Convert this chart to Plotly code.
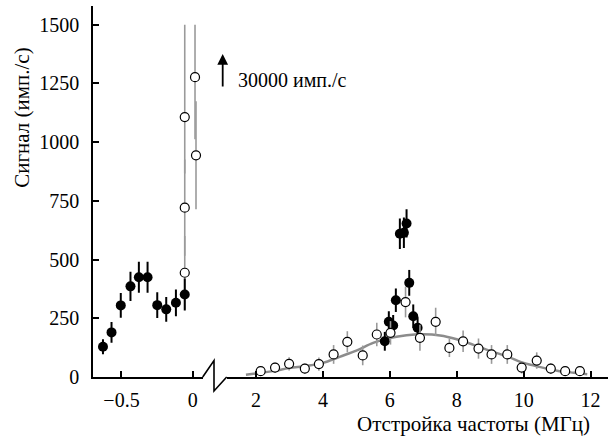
import plotly.graph_objects as go

# ---- data ----
left_filled_x = [-0.630, -0.570, -0.505, -0.437, -0.378, -0.317, -0.249, -0.186, -0.118, -0.056]
left_filled_y = [129, 190, 305, 386, 425, 425, 306, 288, 316, 351]
left_filled_err = [32, 44, 53, 62, 66, 66, 55, 53, 57, 68]

left_open_x = [-0.056, -0.056, -0.056, 0.016, 0.023]
left_open_y = [444, 721, 1107, 1277, 944]
left_open_err_plus = [157, 205, 393, 223, 230]
left_open_err_minus = [157, 205, 240, 265, 230]

right_filled_x = [5.85, 5.97, 6.10, 6.18, 6.30, 6.42, 6.50, 6.58, 6.70, 6.83]
right_filled_y = [152, 235, 219, 327, 610, 614, 654, 401, 259, 210]
right_filled_err = [40, 45, 45, 50, 65, 65, 60, 55, 50, 45]

right_open_x = [2.14, 2.57, 2.99, 3.46, 3.88, 4.32, 4.73, 5.19, 5.61, 6.02, 6.47, 6.90,
                7.37, 7.78, 8.19, 8.65, 9.04, 9.51, 9.94, 10.39, 10.81, 11.24, 11.68]
right_open_y = [25, 40, 56, 36, 55, 96, 150, 92, 181, 188, 319, 167,
                235, 124, 152, 121, 96, 96, 40, 70, 36, 25, 25]
right_open_err = [18, 22, 28, 22, 28, 40, 45, 42, 50, 50, 65, 55,
                  60, 39, 46, 43, 40, 40, 25, 35, 23, 16, 14]

fit_x = [1.7, 2, 2.5, 3, 3.5, 4, 4.5, 5, 5.5, 6, 6.5, 7, 7.5, 8, 8.5, 9, 9.5, 10, 10.5, 11, 11.5, 11.9]
fit_y = [10, 15, 25, 38, 47, 60, 86, 112, 145, 166, 178, 182, 177, 161, 137, 111, 88, 60, 42, 27, 18, 12]

y_ticks = [0, 250, 500, 750, 1000, 1250, 1500]
left_ticks = [-0.5, 0]
left_tick_text = ["\u22120.5", "0"]
right_ticks = [2, 4, 6, 8, 10, 12]

FONT = "Liberation Serif"
W, H = 608, 438
ML, MR, MT, MB = 93, 0, 6, 60.5
PW, PH = W - ML - MR, H - MT - MB


def px(x):
    return (x - ML) / PW


def py(y):
    return (H - MB - y) / PH


fig = go.Figure()

# left part
fig.add_trace(go.Scatter(
    x=left_open_x, y=left_open_y, mode="markers", xaxis="x", yaxis="y",
    marker=dict(size=9, color="white", line=dict(color="black", width=1.2)),
    error_y=dict(type="data", symmetric=False, array=left_open_err_plus,
                 arrayminus=left_open_err_minus, color="#9a9a9a", thickness=1.6, width=0),
    cliponaxis=False, showlegend=False))
fig.add_trace(go.Scatter(
    x=left_filled_x, y=left_filled_y, mode="markers", xaxis="x", yaxis="y",
    marker=dict(size=10, color="black"),
    error_y=dict(type="data", array=left_filled_err, color="black", thickness=2, width=0),
    cliponaxis=False, showlegend=False))

# right part
fig.add_trace(go.Scatter(
    x=fit_x, y=fit_y, mode="lines", xaxis="x2", yaxis="y",
    line=dict(color="#8c8c8c", width=2.5, shape="spline"),
    showlegend=False))
fig.add_trace(go.Scatter(
    x=right_filled_x, y=right_filled_y, mode="markers", xaxis="x2", yaxis="y",
    marker=dict(size=10, color="black"),
    error_y=dict(type="data", array=right_filled_err, color="black", thickness=2, width=0),
    cliponaxis=False, showlegend=False))
fig.add_trace(go.Scatter(
    x=right_open_x, y=right_open_y, mode="markers", xaxis="x2", yaxis="y",
    marker=dict(size=9, color="white", line=dict(color="black", width=1.2)),
    error_y=dict(type="data", array=right_open_err, color="#9a9a9a", thickness=1.6, width=0),
    cliponaxis=False, showlegend=False))

axis_common = dict(showline=True, linecolor="black", linewidth=1.6, ticks="inside",
                   ticklen=6, tickwidth=1.6, tickcolor="black", showgrid=False,
                   zeroline=False, tickfont=dict(family=FONT, size=20, color="black"))

fig.update_layout(
    width=W, height=H,
    margin=dict(l=ML, r=MR, t=MT, b=MB),
    paper_bgcolor="white", plot_bgcolor="white",
    font=dict(family=FONT, size=20, color="black"),
    xaxis=dict(domain=[0, px(202.7)], range=[-0.7, 0.07], tickvals=left_ticks,
               ticktext=left_tick_text, anchor="y", ticklabelstandoff=4, **axis_common),
    xaxis2=dict(domain=[px(226.7), 1], range=[1.125, 12.52], tickvals=right_ticks,
                anchor="y", ticklabelstandoff=4, **axis_common),
    yaxis=dict(range=[0, 1580], tickvals=y_ticks, ticklabelstandoff=8, **axis_common),
)

# axis break zigzag
fig.add_shape(type="path", xref="paper", yref="paper",
              path=f"M {px(202.7)},{py(377.5)} L {px(214)},{py(361)} L {px(214)},{py(391.5)} L {px(226.7)},{py(377.5)}",
              line=dict(color="black", width=1.6))

# titles
fig.add_annotation(text="Сигнал (имп./с)", xref="paper", yref="paper",
                   x=px(22), y=py(118), textangle=-90, showarrow=False,
                   xanchor="center", yanchor="middle", font=dict(family=FONT, size=21, color="black"))
fig.add_annotation(text="Отстройка частоты (МГц)", xref="paper", yref="paper",
                   x=px(592), y=py(425), showarrow=False,
                   xanchor="right", yanchor="middle", font=dict(family=FONT, size=21, color="black"))

# arrow annotation
fig.add_annotation(text="", xref="paper", yref="paper", x=px(222.7), y=py(54),
                   ax=0, ay=34, showarrow=True, arrowhead=2, arrowsize=1.2,
                   arrowwidth=1.8, arrowcolor="black")
fig.add_annotation(text="30000 имп./с", xref="paper", yref="paper", x=px(236),
                   y=py(80), showarrow=False, xanchor="left", yanchor="middle",
                   font=dict(family=FONT, size=20, color="black"))

fig.write_html("out.html")
